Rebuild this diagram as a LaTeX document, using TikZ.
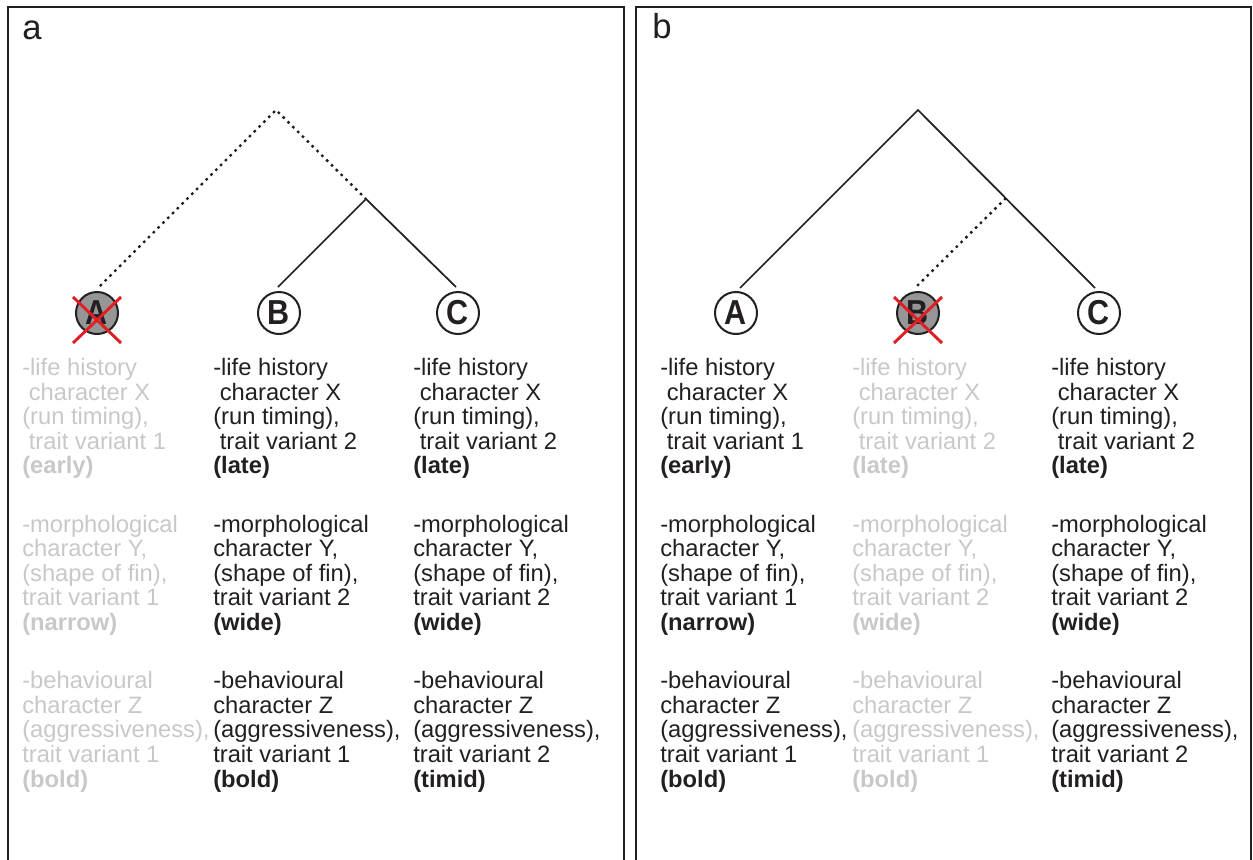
\documentclass[tikz,border=0pt]{standalone}
\usepackage{fontspec}
\setmainfont{Liberation Sans}
\definecolor{ghost}{RGB}{200,200,200}
\definecolor{deadfill}{RGB}{150,150,150}
\definecolor{crossred}{RGB}{225,30,35}
\definecolor{ink}{RGB}{35,31,32}
\newcommand\traitcol[6]{-life history\\\ character X\\(run timing),\\\ trait variant #1\\\textbf{(#2)}\\[25.5pt]-morphological\\character Y,\\(shape of fin),\\trait variant #3\\\textbf{(#4)}\\[25.5pt]-behavioural\\character Z\\(aggressiveness),\\trait variant #5\\\textbf{(#6)}}
\tikzset{
  trait/.style={anchor=base west, align=left, inner sep=0pt, text=ink,
    font=\fontsize{17.8pt}{18.4pt}\selectfont},
  ghosttrait/.style={trait, text=ghost},
  alive/.style={circle, draw=ink, line width=1.5pt, minimum size=31.5pt, inner sep=0pt,
    fill=white, text=ink, font=\fontsize{26pt}{26pt}\selectfont\bfseries},
  extinct/.style={alive, fill=deadfill},
  branch/.style={draw=ink, line width=1.3pt},
  lostbranch/.style={draw=ink, line width=1.8pt, dash pattern=on 1.9pt off 3.2pt},
  frame/.style={draw=ink, line width=1.7pt},
  cross/.style={draw=crossred, line width=2.2pt},
  panellabel/.style={anchor=base west, inner sep=0pt, text=ink,
    font=\fontsize{26pt}{26pt}\selectfont},
}
\begin{document}
\begin{tikzpicture}[x=0.75pt,y=-0.75pt]
\useasboundingbox (0,0) rectangle (1253,860);
% frames
\draw[frame] (8,860) -- (8,7) -- (624,7) -- (624,860);
\draw[frame] (636,860) -- (636,7) -- (1251,7) -- (1251,860);
\node[panellabel] (la) at (22,39) {a};
\node[panellabel] (lb) at (652,38) {b};
% taxa
\node[extinct] (aA) at (97,313) {\scalebox{0.88}[1]{A}};
\node[alive] (aB) at (279,313) {\scalebox{0.88}[1]{B}};
\node[alive] (aC) at (458,313) {\scalebox{0.88}[1]{C}};
\node[alive] (bA) at (736,313) {\scalebox{0.88}[1]{A}};
\node[extinct] (bB) at (918,313) {\scalebox{0.88}[1]{B}};
\node[alive] (bC) at (1099,313) {\scalebox{0.88}[1]{C}};
% tree a
\coordinate (aRoot) at (276,110);
\coordinate (aMid) at (366,199);
\draw[lostbranch] ([shift={(3,-27)}]aA.center) -- (aRoot) -- (aMid);
\draw[branch] ([shift={(-1,-26)}]aB.center) -- (aMid) -- ([shift={(-2,-26)}]aC.center);
% tree b
\coordinate (bRoot) at (918,110);
\coordinate (bMid) at (1006,198);
\draw[branch] ([shift={(4,-25)}]bA.center) -- (bRoot) -- ([shift={(-4,-25)}]bC.center);
\draw[lostbranch] (bMid) -- ([shift={(-2,-26)}]bB.center);
% crosses
\draw[cross] ([shift={(-24,-16)}]aA.center) -- ([shift={(24,30)}]aA.center);
\draw[cross] ([shift={(24,-16)}]aA.center) -- ([shift={(-24,30)}]aA.center);
\draw[cross] ([shift={(-24,-16)}]bB.center) -- ([shift={(24,30)}]bB.center);
\draw[cross] ([shift={(24,-16)}]bB.center) -- ([shift={(-24,30)}]bB.center);
% trait texts (anchored at the baseline of the last line)
\node[ghosttrait] (aAtxt) at (22,787) {\traitcol{1}{early}{1}{narrow}{1}{bold}};
\node[trait] (aBtxt) at (213,787) {\traitcol{2}{late}{2}{wide}{1}{bold}};
\node[trait] (aCtxt) at (413,787) {\traitcol{2}{late}{2}{wide}{2}{timid}};
\node[trait] (bAtxt) at (660,787) {\traitcol{1}{early}{1}{narrow}{1}{bold}};
\node[ghosttrait] (bBtxt) at (852,787) {\traitcol{2}{late}{2}{wide}{1}{bold}};
\node[trait] (bCtxt) at (1051,787) {\traitcol{2}{late}{2}{wide}{2}{timid}};
\end{tikzpicture}
\end{document}
